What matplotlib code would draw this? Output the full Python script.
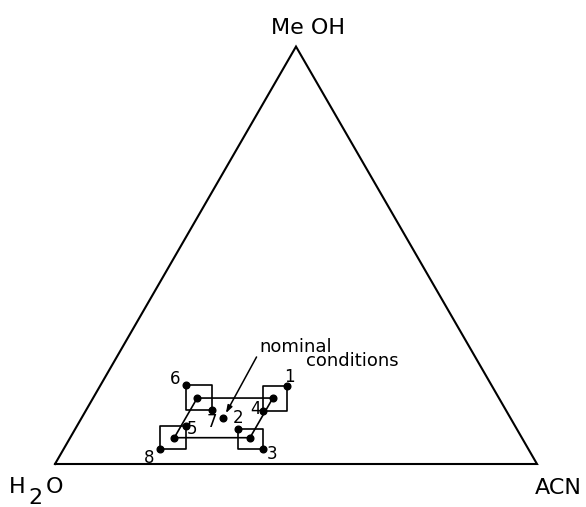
import numpy as np
import matplotlib
matplotlib.use("Agg")
import matplotlib.pyplot as plt

# mobile phase compositions as fractions of ACN and MeOH (water makes up the rest)
point_labels = ["1", "2", "3", "4", "5", "6", "7", "8"]
point_acn = [0.387, 0.337, 0.413, 0.367, 0.226, 0.177, 0.260, 0.201]
point_meoh = [0.188, 0.085, 0.035, 0.128, 0.090, 0.189, 0.130, 0.035]

# each small box is spanned by two opposite design points
box_pairs = [("6", "7"), ("1", "4"), ("8", "5"), ("2", "3")]

# box centres, joined as a parallelogram
centre_acn = [0.216, 0.373, 0.373, 0.216]
centre_meoh = [0.158, 0.158, 0.063, 0.063]

nominal_acn = 0.294
nominal_meoh = 0.110

corner_names = ["H2O", "ACN", "MeOH"]
corner_acn = [0.0, 1.0, 0.0]
corner_meoh = [0.0, 0.0, 1.0]

# label offsets (points) for the numbered points
label_dx = [1.8, 0.0, 6.5, -5.0, 4.7, -7.9, 0.0, -7.9]
label_dy = [6.1, 7.9, -3.6, 1.1, -2.2, 4.1, -8.6, -6.5]


def to_xy(acn, meoh):
    acn = np.asarray(acn, dtype=float)
    meoh = np.asarray(meoh, dtype=float)
    return acn + meoh / 2.0, meoh * np.sqrt(3) / 2.0


W, H = 586, 507
fig = plt.figure(figsize=(W / 100, H / 100), dpi=100)
ax = fig.add_axes([0, 0, 1, 1])
unit = 482.0
ax.set_xlim(-55 / unit, (W - 55) / unit)
ax.set_ylim(-(H - 464) / unit, 464 / unit)
ax.axis("off")

lw_frame = 1.5
lw_inner = 1.2
dot = 4.8

# triangle
cx, cy = to_xy(corner_acn, corner_meoh)
ax.plot(np.append(cx, cx[0]), np.append(cy, cy[0]), color="black", lw=lw_frame,
        solid_joinstyle="miter")

# boxes around the design points
px, py = to_xy(point_acn, point_meoh)
idx = {lab: i for i, lab in enumerate(point_labels)}
for a, b in box_pairs:
    x0, y0 = px[idx[a]], py[idx[a]]
    x1, y1 = px[idx[b]], py[idx[b]]
    ax.plot([x0, x1, x1, x0, x0], [y0, y0, y1, y1, y0], color="black", lw=lw_inner)

# parallelogram through the box centres
qx, qy = to_xy(centre_acn, centre_meoh)
ax.plot(np.append(qx, qx[0]), np.append(qy, qy[0]), color="black", lw=lw_inner)

ax.plot(px, py, "o", color="black", ms=dot)
ax.plot(qx, qy, "o", color="black", ms=dot)
nx, ny = to_xy(nominal_acn, nominal_meoh)
ax.plot([nx], [ny], "o", color="black", ms=dot)

for lab, x, y, dx, dy in zip(point_labels, px, py, label_dx, label_dy):
    ax.annotate(lab, (x, y), xytext=(dx, dy), textcoords="offset points",
                ha="center", va="center", fontsize=12)

# nominal conditions with its arrow
ax.annotate("", xy=(nx, ny), xytext=(24, 44), textcoords="offset points",
            arrowprops=dict(arrowstyle="-|>,head_length=0.45,head_width=0.15",
                            color="black", lw=1.1, shrinkA=0, shrinkB=4))
ax.annotate("nominal", (nx, ny), xytext=(26, 47.7), textcoords="offset points",
            ha="left", va="baseline", fontsize=13)
ax.annotate("conditions", (nx, ny), xytext=(59.3, 37.2), textcoords="offset points",
            ha="left", va="baseline", fontsize=13)

# corner labels
fs = 16
ax.annotate("Me OH", (cx[2], cy[2]), xytext=(8.6, 13.7), textcoords="offset points",
            ha="center", va="center", fontsize=fs)
ax.annotate("ACN", (cx[1], cy[1]), xytext=(15.5, -17), textcoords="offset points",
            ha="center", va="center", fontsize=fs)
ax.annotate("H", (cx[0], cy[0]), xytext=(-27, -16.6), textcoords="offset points",
            ha="center", va="center", fontsize=fs)
ax.annotate("2", (cx[0], cy[0]), xytext=(-14, -24.3), textcoords="offset points",
            ha="center", va="center", fontsize=fs)
ax.annotate("O", (cx[0], cy[0]), xytext=(-0.4, -16.6), textcoords="offset points",
            ha="center", va="center", fontsize=fs)

fig.savefig("out.png", dpi=100, facecolor="white")
